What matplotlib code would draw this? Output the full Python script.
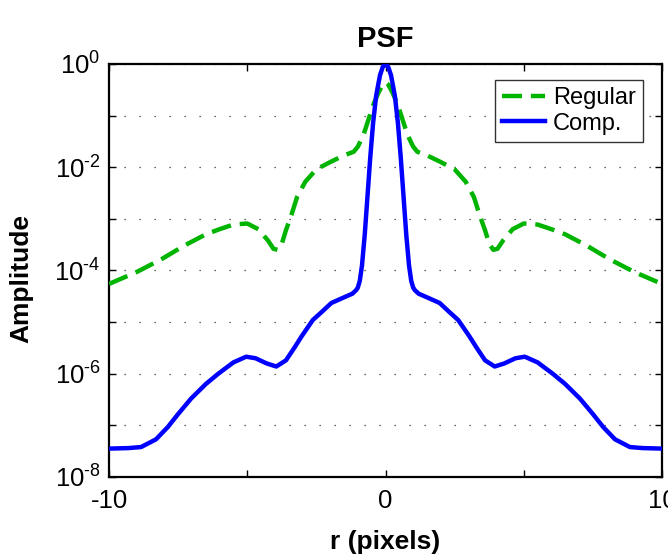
import numpy as np
import matplotlib
matplotlib.use("Agg")
import matplotlib.pyplot as plt
from matplotlib.ticker import FixedLocator, FuncFormatter

plt.rcParams['font.family'] = ['Liberation Sans', 'DejaVu Sans']
plt.rcParams['mathtext.fontset'] = 'custom'
plt.rcParams['mathtext.rm'] = 'Liberation Sans'
plt.rcParams['axes.unicode_minus'] = False

# Regular PSF (log10 amplitude)
r_regular = [-10, -9.0, -8.1, -7.25, -6.5, -6.0, -5.5, -5.0, -4.6, -4.25, -4.05, -3.9,
             -3.75, -3.6, -3.4, -3.2, -2.9, -2.5, -2.0, -1.5, -1.15, -1.0, -0.8, -0.6,
             -0.45, -0.25, -0.1, 0.0,
             0.1, 0.25, 0.45, 0.6, 0.8, 1.0, 1.15, 1.5, 2.0, 2.5, 2.9, 3.2, 3.4, 3.6,
             3.75, 3.9, 4.05, 4.25, 4.6, 5.0, 5.5, 6.0, 6.5, 7.25, 8.1, 9.0, 10]
log_regular = [-4.26, -4.03, -3.78, -3.51, -3.30, -3.20, -3.11, -3.09, -3.20, -3.42, -3.58, -3.60,
               -3.48, -3.22, -2.92, -2.58, -2.28, -2.04, -1.90, -1.77, -1.70, -1.60, -1.38, -1.05,
               -0.80, -0.55, -0.40, -0.36,
               -0.40, -0.55, -0.80, -1.05, -1.38, -1.60, -1.70, -1.77, -1.90, -2.04, -2.28, -2.58, -2.92, -3.22,
               -3.48, -3.60, -3.58, -3.42, -3.20, -3.09, -3.11, -3.20, -3.30, -3.51, -3.78, -4.03, -4.26]

# Compensated PSF (log10 amplitude)
r_comp = [-10, -9.3, -8.84, -8.3, -7.87, -7.5, -7.03, -6.5, -6.05, -5.5, -5.04, -4.7, -4.3,
          -3.95, -3.6, -3.3, -3.04, -2.63, -2.3, -1.96, -1.5, -1.2, -1.06, -1.0, -0.93,
          -0.85, -0.75, -0.65, -0.55, -0.45, -0.34, -0.2, -0.1, 0.0,
          0.1, 0.2, 0.34, 0.45, 0.55, 0.65, 0.75, 0.85, 0.93, 1.0, 1.06, 1.2, 1.5, 1.96,
          2.3, 2.63, 3.04, 3.3, 3.6, 3.95, 4.3, 4.7, 5.04, 5.5, 6.05, 6.5, 7.03, 7.5,
          7.87, 8.3, 8.84, 9.3, 10]
log_comp = [-7.45, -7.44, -7.42, -7.27, -7.03, -6.78, -6.48, -6.20, -6.00, -5.78, -5.67, -5.70, -5.80,
            -5.86, -5.74, -5.50, -5.28, -4.96, -4.80, -4.63, -4.52, -4.45, -4.38, -4.33, -4.20,
            -3.90, -3.30, -2.55, -1.80, -1.15, -0.62, -0.22, -0.06, 0.0,
            -0.06, -0.22, -0.62, -1.15, -1.80, -2.55, -3.30, -3.90, -4.20, -4.33, -4.38, -4.45, -4.52, -4.63,
            -4.80, -4.96, -5.28, -5.50, -5.74, -5.86, -5.80, -5.70, -5.67, -5.78, -6.00, -6.20, -6.48, -6.78,
            -7.03, -7.27, -7.42, -7.44, -7.45]

series_labels = ['Regular', 'Comp.']
x_ticks = [-10, -5, 0, 5, 10]
x_tick_labels = ['-10', '', '0', '', '10']

fig = plt.figure(figsize=(6.68, 5.54), dpi=100)
ax = fig.add_axes([0.1632, 0.139, 0.8278, 0.7455])

ax.plot(r_regular, 10.0 ** np.array(log_regular), color='#00b400', lw=3.2,
        dashes=(4.5, 2.0), label=series_labels[0], zorder=3)
ax.plot(r_comp, 10.0 ** np.array(log_comp), color='#0000ff', lw=3.2,
        label=series_labels[1], zorder=4, solid_joinstyle='round')

ax.set_yscale('log')
ax.set_xlim(-10, 10)
ax.set_ylim(1e-8, 1e0)

ax.xaxis.set_major_locator(FixedLocator(x_ticks))
ax.set_xticklabels(x_tick_labels)
ax.yaxis.set_major_locator(FixedLocator([10.0 ** k for k in range(-8, 1)]))
ax.yaxis.set_minor_locator(FixedLocator([]))

def yfmt(v, pos):
    k = int(round(np.log10(v)))
    if k % 2 != 0:
        return ''
    if k < 0:
        return r'$\mathregular{10^{\text{-}%d}}$' % (-k)
    return r'$\mathregular{10^{%d}}$' % k

ax.yaxis.set_major_formatter(FuncFormatter(yfmt))

ax.tick_params(axis='both', which='both', direction='in', top=True, right=True,
               length=5, width=1.0, labelsize=18.5, pad=6)
ax.tick_params(axis='x', pad=9)
for s in ax.spines.values():
    s.set_linewidth(1.6)

ax.yaxis.grid(True, linestyle=(0, (1, 11)), color='#333333', lw=0.9)
ax.xaxis.grid(False)

ax.set_title('PSF', fontsize=21, fontweight='bold', pad=12)
ax.set_xlabel('r (pixels)', fontsize=19, fontweight='bold', labelpad=12)
ax.set_ylabel('Amplitude', fontsize=19, fontweight='bold')
ax.yaxis.set_label_coords(-0.137, 0.48)

leg = ax.legend(loc='upper right', bbox_to_anchor=(0.9656, 0.961), fontsize=17,
                fancybox=False, framealpha=1, edgecolor='#333333',
                handlelength=1.8, handletextpad=0.35, borderpad=0.3, labelspacing=0.15,
                borderaxespad=0.0)
leg.get_frame().set_linewidth(1.0)

fig.savefig('out.png', dpi=100)
